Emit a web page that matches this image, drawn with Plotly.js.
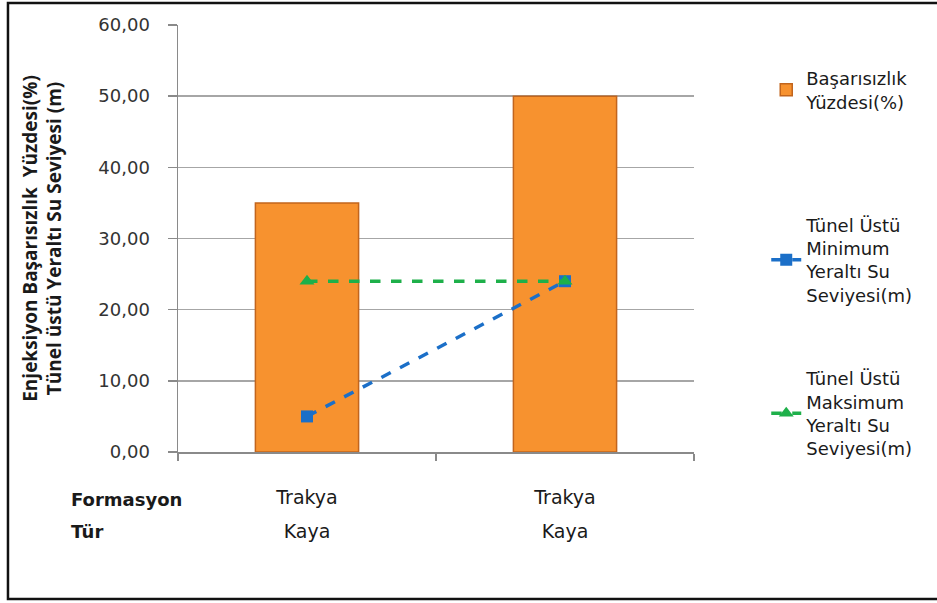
<!DOCTYPE html>
<html>
<head>
<meta charset="utf-8">
<script src="https://cdn.plot.ly/plotly-3.0.1.min.js"></script>
<style>html,body{margin:0;padding:0;background:#fff;}#chart{width:937px;height:603px;}</style>
</head>
<body>
<div id="chart"></div>
<script>
// ---- data ----
var formations = ["Trakya", "Trakya"];
var types = ["Kaya", "Kaya"];
var positions = [0, 1];
var failurePct = [35, 50];
var minWaterLevel = [5, 24];
var maxWaterLevel = [24, 24];
var yTickVals = [0, 10, 20, 30, 40, 50, 60];
var rowLabels = ["Formasyon", "Tür"];
var seriesNames = ["Başarısızlık<br>Yüzdesi(%)",
  "Tünel Üstü<br>Minimum<br>Yeraltı Su<br>Seviyesi(m)",
  "Tünel Üstü<br>Maksimum<br>Yeraltı Su<br>Seviyesi(m)"];
var yTitle = "Enjeksiyon Başarısızlık  Yüzdesi(%)<br>Tünel üstü Yeraltı Su Seviyesi (m)";

var FONT = "DejaVu Sans, Open Sans, sans-serif";
var TFONT = "Open Sans, Noto Sans, sans-serif";
var TXT = "#1a1a1a";

var traces = [
  {type: "bar", x: positions, y: failurePct, name: seriesNames[0], width: 0.4,
   marker: {color: "#F7922F", line: {color: "#C2651D", width: 1.5}},
   legend: "legend"},
  {type: "scatter", mode: "lines+markers", x: positions, y: minWaterLevel, name: seriesNames[1],
   line: {color: "#1B6FC8", width: 3.5, dash: "dash"},
   marker: {symbol: "square", size: 12, color: "#1B6FC8"}, legend: "legend2"},
  {type: "scatter", mode: "lines+markers", x: positions, y: maxWaterLevel, name: seriesNames[2],
   line: {color: "#1EB04A", width: 3.5, dash: "dash"},
   marker: {symbol: "triangle-up", size: 13, color: "#1EB04A"}, legend: "legend3"}
];

var legendBase = {xanchor: "left", yanchor: "middle", bgcolor: "rgba(0,0,0,0)",
  font: {family: FONT, size: 18, color: TXT}, itemwidth: 30};

var layout = {
  width: 937, height: 603,
  margin: {l: 178, r: 243, t: 25, b: 151},
  paper_bgcolor: "#fff", plot_bgcolor: "#fff",
  separators: ",.",
  font: {family: FONT, color: TXT},
  showlegend: true,
  legend: Object.assign({}, legendBase, {x: 1.14, y: 0.848}),
  legend2: Object.assign({}, legendBase, {x: 1.14, y: 0.45}),
  legend3: Object.assign({}, legendBase, {x: 1.14, y: 0.09}),
  xaxis: {
    type: "linear", range: [-0.5, 1.5], fixedrange: true,
    tickmode: "array", tickvals: positions, ticktext: formations,
    ticks: "", showgrid: false, zeroline: false,
    showline: true, linecolor: "#8a8a8a", linewidth: 1.5,
    tickfont: {family: FONT, size: 19, color: TXT},
    ticklabelstandoff: 28,
    minor: {ticks: "outside", tick0: 0.5, dtick: 1, ticklen: 7, tickcolor: "#8a8a8a", tickwidth: 1.5, showgrid: false}
  },
  xaxis2: {
    overlaying: "x", anchor: "y", side: "bottom", type: "linear", range: [-0.5, 1.5],
    tickmode: "array", tickvals: positions, ticktext: types,
    ticks: "", showgrid: false, zeroline: false, showline: false,
    tickfont: {family: FONT, size: 19, color: TXT},
    ticklabelstandoff: 66
  },
  yaxis: {
    range: [0, 60], tickmode: "array", tickvals: yTickVals, tickformat: ".2f",
    showgrid: true, gridcolor: "#a6a6a6", gridwidth: 1.5,
    zeroline: false, showline: true, linecolor: "#8a8a8a", linewidth: 1.5,
    ticks: "outside", ticklen: 9, tickcolor: "#8a8a8a", tickwidth: 1.5,
    tickfont: {family: FONT, size: 18, color: "#333"},
    ticklabelstandoff: 14,
    title: {text: yTitle, font: {family: TFONT, size: 19, color: TXT, weight: "bold"}, standoff: 31}
  },
  annotations: [
    {text: "<b>" + rowLabels[0] + "</b>", xref: "paper", yref: "paper", x: -0.212, y: -0.112,
     xanchor: "left", yanchor: "middle", showarrow: false, font: {family: FONT, size: 18, color: TXT}},
    {text: "<b>" + rowLabels[1] + "</b>", xref: "paper", yref: "paper", x: -0.212, y: -0.187,
     xanchor: "left", yanchor: "middle", showarrow: false, font: {family: FONT, size: 18, color: TXT}}
  ],
  shapes: [
    {type: "rect", xref: "paper", yref: "paper", x0: -0.3295, x1: 1.48, y0: -0.344, y1: 1.0515,
     line: {color: "#111", width: 2.5}, fillcolor: "rgba(0,0,0,0)", layer: "above"}
  ]
};

// invisible helper trace binding the second (label) x axis
traces.push({type: "scatter", x: positions, y: [null, null], xaxis: "x2", yaxis: "y",
  showlegend: false, hoverinfo: "skip", mode: "markers"});

Plotly.newPlot("chart", traces, layout, {displayModeBar: false, staticPlot: true});
</script>
</body>
</html>
